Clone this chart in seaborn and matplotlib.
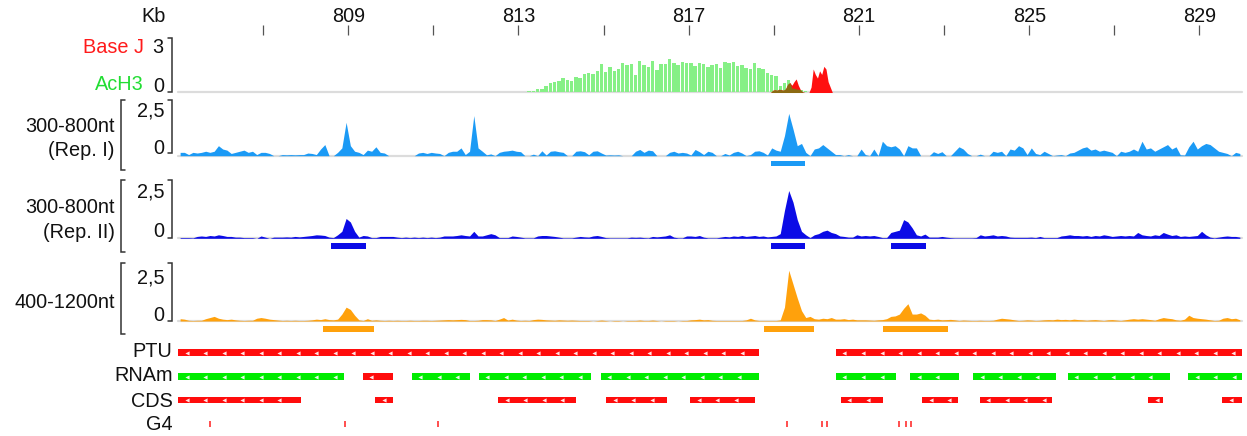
import numpy as np
import pandas as pd
import matplotlib
matplotlib.use("Agg")
import matplotlib.pyplot as plt
from matplotlib.lines import Line2D
import seaborn as sns

sns.set_theme(style="white")
plt.rcParams["font.family"] = ["Liberation Sans", "DejaVu Sans"]

# ---------------------------------------------------------------- data
KB_MIN, KB_MAX = 805.0, 830.0
MAJOR_TICKS = [809, 813, 817, 821, 825, 829]
MINOR_TICKS = [807, 811, 815, 819, 823, 827]

# AcH3 ChIP signal, 0.1 kb bins starting at 813.2 kb
ACH3_START, ACH3_STEP = 813.2, 0.1
ach3 = [0.07, 0.07, 0.2, 0.22, 0.37, 0.52, 0.58, 0.62, 0.8, 0.71,
        0.65, 0.86, 0.8, 1.05, 1.09, 1.05, 1.18, 1.55, 1.12, 1.42,
        1.18, 1.31, 1.65, 1.5, 1.55, 0.99, 1.74, 1.5, 1.42, 1.74,
        1.27, 1.55, 1.55, 1.87, 1.65, 1.5, 1.69, 1.61, 1.65, 1.46,
        1.65, 1.55, 1.42, 1.52, 1.55, 1.37, 1.69, 1.65, 1.69, 1.46,
        1.5, 1.37, 1.31, 1.61, 1.37, 1.31, 1.09, 0.99, 0.94, 0.37,
        0.52, 0.71, 0.24, 0.19, 0.15, 0.06]

# Base J signal, 0.05 kb bins starting at 818.9 kb
BASEJ_START, BASEJ_STEP = 818.9, 0.05
base_j = [0, 0.12, 0.15, 0.12, 0.18, 0.15, 0.12, 0.2, 0.45, 0.55,
          0.4, 0.6, 0.75, 0.4, 0.15, 0.03, 0, 0, 0, 0.3,
          1.3, 1.0, 0.8, 1.2, 1.0, 1.45, 1.3, 0.6, 0.3, 0]

# fragment coverage tracks, 0.1 kb bins from 805 kb
COV_STEP = 0.1
rep1_300_800 = [
    0.15, 0.15, 0.05, 0.15, 0.12, 0.15, 0.2, 0.15, 0.2, 0.45,
    0.3, 0.25, 0.1, 0.15, 0.2, 0.25, 0.15, 0.2, 0.05, 0.15,
    0.15, 0.1, 0, 0, 0.05, 0.04, 0.05, 0.04, 0.05, 0.05,
    0.12, 0.1, 0.05, 0.3, 0.5, 0, 0, 0.15, 0.35, 1.5,
    0.45, 0.2, 0.15, 0.05, 0.25, 0.2, 0.4, 0.15, 0.12, 0,
    0, 0, 0, 0, 0, 0, 0.12, 0.15, 0.1, 0.15,
    0.12, 0.1, 0, 0.15, 0.2, 0.2, 0.35, 0.05, 0.2, 1.8,
    0.35, 0.2, 0.04, 0.08, 0, 0.15, 0.2, 0.22, 0.25, 0.2,
    0.18, 0, 0, 0.07, 0, 0.22, 0.03, 0.2, 0.22, 0.18,
    0.15, 0, 0, 0.2, 0.22, 0.18, 0.04, 0.2, 0.22, 0.12,
    0.03, 0.04, 0.03, 0.04, 0, 0, 0, 0.2, 0.28, 0.15,
    0.25, 0.22, 0, 0, 0, 0.15, 0.2, 0.12, 0.15, 0.12,
    0.03, 0.28, 0.18, 0.05, 0.2, 0.15, 0, 0, 0.1, 0.03,
    0.15, 0.2, 0.12, 0, 0.05, 0.2, 0.22, 0.15, 0.03, 0.35,
    0.25, 0.2, 0.9, 1.9, 1.2, 0.45, 0.55, 0.15, 0, 0.3,
    0.35, 0.5, 0.35, 0.2, 0.05, 0.05, 0, 0.05, 0, 0,
    0.3, 0.05, 0, 0.3, 0, 0.65, 0.45, 0.4, 0.45, 0.3,
    0, 0.45, 0.35, 0.35, 0, 0, 0, 0.18, 0.1, 0.18,
    0, 0, 0.2, 0.4, 0.3, 0.1, 0, 0, 0.07, 0,
    0, 0.2, 0.15, 0.2, 0, 0.3, 0.25, 0.45, 0.35, 0.05,
    0.35, 0.1, 0.05, 0.2, 0.1, 0, 0.03, 0.05, 0, 0.12,
    0.15, 0.25, 0.35, 0.4, 0.25, 0.3, 0.2, 0.25, 0.2, 0.15,
    0, 0.2, 0.15, 0.2, 0.3, 0.2, 0.65, 0.3, 0.35, 0.2,
    0.3, 0.4, 0.5, 0.3, 0.4, 0.04, 0.03, 0.4, 0.65, 0.3,
    0.45, 0.55, 0.5, 0.35, 0.2, 0.15, 0.1, 0, 0.15, 0.1]

rep2_300_800 = [
    0.03, 0.03, 0.03, 0.02, 0.08, 0.1, 0.08, 0.12, 0.1, 0.15,
    0.12, 0.08, 0.08, 0.05, 0.05, 0.03, 0.03, 0.03, 0, 0.1,
    0.05, 0, 0.05, 0.05, 0.05, 0.06, 0.05, 0.08, 0.06, 0.08,
    0.1, 0.12, 0.15, 0.14, 0.12, 0.05, 0.03, 0.15, 0.3, 0.85,
    0.7, 0.3, 0.05, 0.12, 0.1, 0.03, 0.03, 0.08, 0.08, 0.08,
    0.08, 0.05, 0.03, 0.05, 0.03, 0.05, 0.03, 0.05, 0.03, 0.05,
    0.03, 0.05, 0.1, 0.1, 0.1, 0.12, 0.15, 0.12, 0.1, 0.3,
    0.1, 0.1, 0.15, 0.2, 0.15, 0.03, 0.03, 0.03, 0.1, 0.08,
    0.05, 0.02, 0.02, 0.02, 0.1, 0.12, 0.12, 0.1, 0.08, 0.05,
    0.02, 0.02, 0.02, 0.05, 0.08, 0.06, 0.05, 0.1, 0.12, 0.08,
    0.03, 0.02, 0.02, 0.02, 0.02, 0.02, 0.05, 0.04, 0.05, 0.03,
    0.02, 0.08, 0.06, 0.08, 0.1, 0.15, 0.05, 0.02, 0.02, 0.1,
    0.1, 0.08, 0.12, 0.05, 0.02, 0.02, 0.02, 0.05, 0.08, 0.06,
    0.1, 0.08, 0.12, 0.08, 0.1, 0.12, 0.08, 0.1, 0.06, 0.08,
    0.1, 0.2, 1.2, 2.05, 1.55, 0.8, 0.3, 0.15, 0.03, 0.15,
    0.2, 0.3, 0.35, 0.25, 0.2, 0.1, 0.08, 0.05, 0.05, 0.15,
    0.1, 0.12, 0.1, 0.12, 0.08, 0.03, 0.03, 0.25, 0.3, 0.35,
    0.8, 0.7, 0.45, 0.15, 0.1, 0.18, 0.05, 0.05, 0.05, 0.08,
    0.05, 0.03, 0.02, 0.02, 0.02, 0.02, 0.02, 0.03, 0.15, 0.1,
    0.12, 0.15, 0.1, 0.12, 0.1, 0.05, 0.04, 0.04, 0.04, 0.04,
    0.05, 0.03, 0.08, 0.03, 0.03, 0.03, 0.03, 0.1, 0.12, 0.15,
    0.12, 0.12, 0.1, 0.12, 0.08, 0.12, 0.1, 0.15, 0.12, 0.08,
    0.1, 0.12, 0.1, 0.12, 0.1, 0.25, 0.15, 0.12, 0.1, 0.15,
    0.12, 0.25, 0.18, 0.12, 0.15, 0.08, 0.1, 0.08, 0.1, 0.12,
    0.3, 0.15, 0.05, 0.02, 0.05, 0.08, 0.1, 0.08, 0.08, 0.05]

frag_400_1200 = [
    0.1, 0.08, 0.03, 0.02, 0.03, 0.03, 0.1, 0.15, 0.2, 0.12,
    0.08, 0.06, 0.08, 0.05, 0.03, 0.02, 0.03, 0.03, 0.12, 0.15,
    0.12, 0.08, 0.06, 0.04, 0.02, 0.03, 0.02, 0.03, 0.02, 0.02,
    0.03, 0.05, 0.08, 0.06, 0.1, 0.06, 0.05, 0.08, 0.3, 0.6,
    0.5, 0.25, 0.05, 0.02, 0.1, 0.03, 0.05, 0.03, 0.02, 0.03,
    0.02, 0.03, 0.02, 0.02, 0.03, 0.02, 0.02, 0.03, 0.03, 0.02,
    0.03, 0.04, 0.05, 0.06, 0.05, 0.06, 0.07, 0.06, 0.02, 0.02,
    0.03, 0.06, 0.06, 0.05, 0.02, 0.08, 0.15, 0.04, 0.08, 0.04,
    0.02, 0.03, 0.02, 0.06, 0.08, 0.07, 0.05, 0.04, 0.03, 0.05,
    0.04, 0.03, 0.04, 0.03, 0.02, 0.02, 0.02, 0, 0.02, 0.04,
    0.02, 0, 0.02, 0.02, 0, 0.02, 0.02, 0.02, 0.04, 0.02,
    0.02, 0.04, 0.02, 0, 0.02, 0.02, 0.02, 0, 0.02, 0.02,
    0.05, 0.06, 0.08, 0.05, 0.06, 0.03, 0.02, 0.02, 0.02, 0.02,
    0.02, 0.02, 0.02, 0.05, 0.12, 0.05, 0.02, 0.02, 0.02, 0.02,
    0.02, 0.05, 0.6, 2.2, 1.6, 1.0, 0.45, 0.15, 0.2, 0.1,
    0.08, 0.12, 0.1, 0.15, 0.08, 0.08, 0.1, 0.06, 0.08, 0.05,
    0.05, 0.05, 0.04, 0.03, 0.05, 0.06, 0.1, 0.2, 0.22, 0.3,
    0.55, 0.75, 0.3, 0.3, 0.35, 0.25, 0.08, 0.06, 0.08, 0.05,
    0.06, 0.07, 0.05, 0.02, 0.04, 0.03, 0.02, 0.02, 0.03, 0.02,
    0.02, 0.03, 0.08, 0.12, 0.1, 0.08, 0.05, 0.02, 0.03, 0.05,
    0.04, 0.02, 0.03, 0.05, 0.06, 0.05, 0.08, 0.06, 0.07, 0.05,
    0.08, 0.06, 0.05, 0.03, 0.05, 0.06, 0.04, 0.02, 0.05, 0.06,
    0.04, 0.02, 0.05, 0.08, 0.1, 0.08, 0.1, 0.08, 0.06, 0.03,
    0.1, 0.15, 0.12, 0.1, 0.05, 0.03, 0.08, 0.25, 0.15, 0.12,
    0.1, 0.08, 0.05, 0.02, 0.03, 0.12, 0.15, 0.1, 0.12, 0.05]

# enriched regions (start kb, end kb)
rep1_peaks = [(818.94, 819.74)]
rep2_peaks = [(808.60, 809.41), (818.94, 819.74), (821.76, 822.57)]
long_peaks = [(808.41, 809.61), (818.77, 819.95), (821.56, 823.09)]

# annotation features
ptu_start = [805.0, 820.46]
ptu_end = [818.66, 830.0]
rnam_start = [805.0, 809.34, 810.49, 812.07, 814.93, 820.46, 822.21, 823.68, 825.90, 828.74]
rnam_end = [808.90, 810.05, 811.87, 814.71, 818.66, 821.87, 823.36, 825.63, 828.31, 830.0]
rnam_kind = ["g", "r", "g", "g", "g", "g", "g", "g", "g", "g"]
cds_start = [805.0, 809.64, 812.52, 815.06, 817.04, 820.57, 822.49, 823.84, 827.80, 829.54]
cds_end = [807.89, 810.05, 814.36, 816.50, 818.56, 821.57, 823.33, 825.53, 828.14, 830.0]
g4_pos = [805.75, 808.93, 811.12, 819.31, 820.13, 820.25, 821.93, 822.11, 822.23]

# ---------------------------------------------------------------- style
C_ACH3 = "#86f086"
C_BASEJ = "#ff1010"
C_OVERLAP = "#8c6a12"
C_REP1 = "#1b9af5"
C_REP2 = "#0b0be6"
C_LONG = "#ffa10c"
C_RED = "#ff0c0c"
C_GREEN = "#00ec00"
C_BASE = "#dcdcdc"
C_TEXT = "#111111"
C_BRACKET = "#333333"
FS = 14.3

W, H = 1247, 436
X0, X1 = 178, 1242
fig = plt.figure(figsize=(W / 100, H / 100), dpi=100)


def px_axes(top, bottom, left=X0, right=X1):
    ax = fig.add_axes([left / W, 1 - bottom / H, (right - left) / W, (bottom - top) / H])
    ax.set_xlim(KB_MIN, KB_MAX)
    return ax


def label(x, y, s, color=C_TEXT, ha="right"):
    fig.text(x / W, 1 - y / H, s, ha=ha, va="baseline", fontsize=FS, color=color)


def bracket(x, top, bottom, side):
    serif = 4.5 if side == "left" else -4.5
    xs = [x + serif, x, x, x + serif]
    ys = [top, top, bottom, bottom]
    fig.add_artist(Line2D([v / W for v in xs], [1 - v / H for v in ys],
                          transform=fig.transFigure, color=C_BRACKET, lw=1.1,
                          solid_joinstyle="miter"))


def signal_hist(ax, start, step, values, color, **kw):
    vals = np.asarray(values, dtype=float)
    edges = [start + step * i for i in range(len(vals) + 1)]
    df = pd.DataFrame({"kb": [e + step / 2 for e in edges[:-1]], "signal": vals})
    sns.histplot(data=df, x="kb", weights="signal", bins=edges, color=color,
                 alpha=1, linewidth=0, ax=ax, **kw)


def coverage(ax, values, color, ymax):
    ax.axhline(0, color=C_BASE, lw=1.6, zorder=0, clip_on=False)
    signal_hist(ax, KB_MIN, COV_STEP, values, color, element="poly", fill=True)
    ax.set_xlim(KB_MIN, KB_MAX)
    ax.set_ylim(0, ymax)
    ax.set_axis_off()


def chevrons(ax, s, e):
    pos = np.arange(s + 0.2, e - 0.1, 0.435)
    ax.plot(pos, np.full(len(pos), 0.5), ls="none", marker="<", ms=3,
            mew=0, color="white", alpha=0.9)


# ---------------------------------------------------------------- ruler
ax = px_axes(26, 35)
ax.set_xticks(MAJOR_TICKS)
ax.set_xticklabels([str(t) for t in MAJOR_TICKS])
ax.set_xticks(MINOR_TICKS, minor=True)
ax.tick_params(axis="x", which="both", direction="in", length=7, width=0.9,
               color="#555555", bottom=True, top=False, labelbottom=False,
               labeltop=True, pad=-0.3, labelsize=FS, labelcolor=C_TEXT)
for sp in ax.spines.values():
    sp.set_visible(False)
ax.set_yticks([])
ax.patch.set_alpha(0)
label(154, 22.5, "Kb", ha="center")

# ---------------------------------------------------------------- Base J / AcH3
ax = px_axes(38.3, 92.5)
ax.axhline(0, color=C_BASE, lw=1.6, zorder=0, clip_on=False)
signal_hist(ax, ACH3_START, ACH3_STEP, ach3, C_ACH3, element="bars", shrink=0.8)
signal_hist(ax, BASEJ_START, BASEJ_STEP, base_j, C_BASEJ, element="poly", fill=True)
a_vals = np.asarray(ach3)
j_vals = np.asarray(base_j)
j_centers = BASEJ_START + BASEJ_STEP * (np.arange(len(j_vals)) + 0.5)
idx = np.floor((j_centers - ACH3_START) / ACH3_STEP).astype(int)
green_here = np.where((idx >= 0) & (idx < len(a_vals)),
                      a_vals[np.clip(idx, 0, len(a_vals) - 1)], 0)
signal_hist(ax, BASEJ_START, BASEJ_STEP, np.minimum(j_vals, green_here), C_OVERLAP,
            element="poly", fill=True)
ax.set_xlim(KB_MIN, KB_MAX)
ax.set_ylim(0, 3)
ax.set_axis_off()
label(144, 53.3, "Base J", color="#ff1a1a")
label(144, 90, "AcH3", color="#22dd33")
label(163.5, 53.3, "3")
label(164, 92.5, "0")
bracket(172, 38.3, 91.7, "right")

# ---------------------------------------------------------------- coverage tracks
tracks = [
    (rep1_300_800, C_REP1, (100, 155.7), (160.7, 166.3), rep1_peaks,
     ["300-800nt", "(Rep. I)"], (131.7, 155.7), (116.7, 154.3), (100, 170), 153),
    (rep2_300_800, C_REP2, (180, 238.3), (243.3, 249.3), rep2_peaks,
     ["300-800nt", "(Rep. II)"], (212.7, 237.7), (197.3, 236.7), (180, 252.3), 237.7),
    (frag_400_1200, C_LONG, (263.3, 321), (326.3, 332.3), long_peaks,
     ["400-1200nt"], (308.3,), (283.3, 321), (263.3, 334.3), 321),
]
for vals, color, (t, b), (pt, pb), peaks, names, name_y, scale_y, big, small_bottom in tracks:
    ax = px_axes(t, b)
    coverage(ax, vals, color, 2.5)
    pax = px_axes(pt, pb)
    pax.broken_barh([(s, e - s) for s, e in peaks], (0, 1), facecolor=color, edgecolor="none")
    pax.set_ylim(0, 1)
    pax.set_axis_off()
    for n, y in zip(names, name_y):
        label(115, y, n)
    label(164.3, scale_y[0], "2,5")
    label(164.3, scale_y[1], "0")
    bracket(120.5, big[0], big[1], "left")
    bracket(172, big[0], small_bottom, "right")

# ---------------------------------------------------------------- annotation rows
ax = px_axes(349.3, 356)
for s, e in zip(ptu_start, ptu_end):
    ax.broken_barh([(s, e - s)], (0, 1), facecolor=C_RED, edgecolor="none")
    chevrons(ax, s, e)
ax.set_ylim(0, 1)
ax.set_axis_off()
label(172.5, 356.7, "PTU")

ax = px_axes(373.3, 380)
for s, e, k in zip(rnam_start, rnam_end, rnam_kind):
    ax.broken_barh([(s, e - s)], (0, 1), facecolor=C_GREEN if k == "g" else C_RED,
                   edgecolor="none")
    chevrons(ax, s, e)
ax.set_ylim(0, 1)
ax.set_axis_off()
label(173, 380.7, "RNAm")

ax = px_axes(397.3, 403.3)
for s, e in zip(cds_start, cds_end):
    ax.broken_barh([(s, e - s)], (0, 1), facecolor=C_RED, edgecolor="none")
    chevrons(ax, s, e)
ax.set_ylim(0, 1)
ax.set_axis_off()
label(172.5, 407.3, "CDS")

ax = px_axes(421, 426.7)
ax.vlines(g4_pos, 0, 1, color="#ff3030", lw=1.2)
ax.set_ylim(0, 1)
ax.set_axis_off()
label(172.5, 430, "G4")

fig.savefig("out.png", dpi=100, facecolor="white")
